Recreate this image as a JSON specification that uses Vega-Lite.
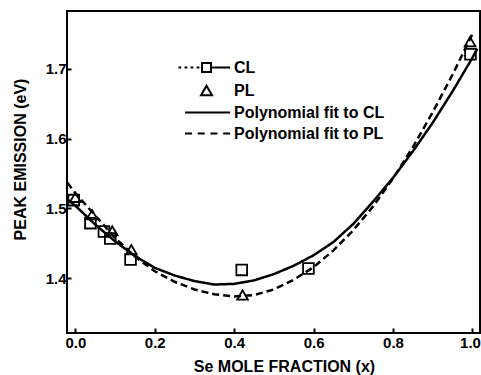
{
  "$schema": "https://vega.github.io/schema/vega-lite/v6.json",
  "width": 413,
  "height": 322,
  "autosize": {"type": "none"},
  "padding": {"left": 67, "top": 11, "right": 1, "bottom": 42},
  "background": "white",
  "config": {
    "view": {"stroke": "black", "strokeWidth": 2},
    "font": "Liberation Sans",
    "axis": {
      "domain": false,
      "grid": false,
      "labelFont": "Liberation Sans",
      "labelFontWeight": "bold",
      "labelFontSize": 15,
      "labelColor": "black",
      "titleFont": "Liberation Sans",
      "titleFontWeight": "bold",
      "titleFontSize": 16,
      "titleColor": "black",
      "tickColor": "black",
      "tickWidth": 2
    }
  },
  "datasets": {
    "points": [
      {"series": "CL", "x": -0.004, "y": 1.512},
      {"series": "CL", "x": 0.038, "y": 1.479},
      {"series": "CL", "x": 0.072, "y": 1.467},
      {"series": "CL", "x": 0.088, "y": 1.457},
      {"series": "CL", "x": 0.139, "y": 1.427},
      {"series": "CL", "x": 0.419, "y": 1.412},
      {"series": "CL", "x": 0.587, "y": 1.414},
      {"series": "CL", "x": 0.995, "y": 1.721},
      {"series": "PL", "x": 0.0, "y": 1.516},
      {"series": "PL", "x": 0.042, "y": 1.491},
      {"series": "PL", "x": 0.093, "y": 1.468},
      {"series": "PL", "x": 0.141, "y": 1.441},
      {"series": "PL", "x": 0.421, "y": 1.376},
      {"series": "PL", "x": 0.994, "y": 1.739}
    ],
    "fits": [
      {"series": "Polynomial fit to CL", "x": -0.02, "y": 1.513},
      {"series": "Polynomial fit to CL", "x": 0.0, "y": 1.504},
      {"series": "Polynomial fit to CL", "x": 0.05, "y": 1.477},
      {"series": "Polynomial fit to CL", "x": 0.1, "y": 1.453},
      {"series": "Polynomial fit to CL", "x": 0.15, "y": 1.432},
      {"series": "Polynomial fit to CL", "x": 0.2, "y": 1.415},
      {"series": "Polynomial fit to CL", "x": 0.25, "y": 1.404},
      {"series": "Polynomial fit to CL", "x": 0.3, "y": 1.396},
      {"series": "Polynomial fit to CL", "x": 0.35, "y": 1.391},
      {"series": "Polynomial fit to CL", "x": 0.4, "y": 1.392},
      {"series": "Polynomial fit to CL", "x": 0.45, "y": 1.397},
      {"series": "Polynomial fit to CL", "x": 0.5, "y": 1.406},
      {"series": "Polynomial fit to CL", "x": 0.55, "y": 1.418},
      {"series": "Polynomial fit to CL", "x": 0.6, "y": 1.433},
      {"series": "Polynomial fit to CL", "x": 0.65, "y": 1.452},
      {"series": "Polynomial fit to CL", "x": 0.7, "y": 1.478},
      {"series": "Polynomial fit to CL", "x": 0.75, "y": 1.51},
      {"series": "Polynomial fit to CL", "x": 0.8, "y": 1.544},
      {"series": "Polynomial fit to CL", "x": 0.85, "y": 1.582},
      {"series": "Polynomial fit to CL", "x": 0.9, "y": 1.623},
      {"series": "Polynomial fit to CL", "x": 0.95, "y": 1.668},
      {"series": "Polynomial fit to CL", "x": 1.0, "y": 1.716},
      {"series": "Polynomial fit to CL", "x": 1.012, "y": 1.729},
      {"series": "Polynomial fit to PL", "x": -0.02, "y": 1.537},
      {"series": "Polynomial fit to PL", "x": 0.0, "y": 1.522},
      {"series": "Polynomial fit to PL", "x": 0.05, "y": 1.49},
      {"series": "Polynomial fit to PL", "x": 0.1, "y": 1.458},
      {"series": "Polynomial fit to PL", "x": 0.15, "y": 1.431},
      {"series": "Polynomial fit to PL", "x": 0.2, "y": 1.41},
      {"series": "Polynomial fit to PL", "x": 0.25, "y": 1.395},
      {"series": "Polynomial fit to PL", "x": 0.3, "y": 1.384},
      {"series": "Polynomial fit to PL", "x": 0.35, "y": 1.377},
      {"series": "Polynomial fit to PL", "x": 0.4, "y": 1.374},
      {"series": "Polynomial fit to PL", "x": 0.45, "y": 1.376},
      {"series": "Polynomial fit to PL", "x": 0.5, "y": 1.384},
      {"series": "Polynomial fit to PL", "x": 0.55, "y": 1.398},
      {"series": "Polynomial fit to PL", "x": 0.6, "y": 1.416},
      {"series": "Polynomial fit to PL", "x": 0.65, "y": 1.44},
      {"series": "Polynomial fit to PL", "x": 0.7, "y": 1.469},
      {"series": "Polynomial fit to PL", "x": 0.75, "y": 1.503},
      {"series": "Polynomial fit to PL", "x": 0.8, "y": 1.543},
      {"series": "Polynomial fit to PL", "x": 0.85, "y": 1.588},
      {"series": "Polynomial fit to PL", "x": 0.9, "y": 1.638},
      {"series": "Polynomial fit to PL", "x": 0.95, "y": 1.692},
      {"series": "Polynomial fit to PL", "x": 1.0, "y": 1.75}
    ]
  },
  "encoding": {
    "x": {
      "field": "x", "type": "quantitative",
      "scale": {"domain": [-0.021, 1.019], "nice": false, "zero": false},
      "axis": {
        "title": "Se MOLE FRACTION (x)",
        "values": [0, 0.2, 0.4, 0.6, 0.8, 1.0],
        "format": ".1f",
        "tickSize": -5,
        "labelPadding": 7,
        "labelAlign": {"expr": "datum.value == 1 ? 'right' : 'center'"},
        "labelOffset": {"expr": "datum.value == 1 ? 8 : 0"},
        "titleY": 38,
        "titleX": 217,
        "titleBaseline": "alphabetic"
      }
    },
    "y": {
      "field": "y", "type": "quantitative",
      "scale": {"domain": [1.3216, 1.783], "nice": false, "zero": false},
      "axis": {
        "title": "PEAK EMISSION (eV)",
        "values": [1.4, 1.5, 1.6, 1.7],
        "format": ".1f",
        "tickSize": -4,
        "labelPadding": 5,
        "titleX": -42,
        "titleY": 148,
        "titleBaseline": "alphabetic"
      }
    }
  },
  "resolve": {"scale": {"shape": "independent"}},
  "layer": [
    {
      "data": {"name": "fits"},
      "mark": {"type": "line", "color": "black", "strokeWidth": 2.5, "clip": true},
      "encoding": {
        "strokeDash": {
          "field": "series", "type": "nominal",
          "scale": {"domain": ["Polynomial fit to CL", "Polynomial fit to PL"], "range": [[1, 0], [7, 4]]},
          "legend": null
        }
      }
    },
    {
      "data": {"name": "points"},
      "mark": {"type": "point", "filled": false, "color": "black", "opacity": 1, "strokeWidth": 1.8, "size": 115},
      "encoding": {
        "shape": {
          "field": "series", "type": "nominal",
          "scale": {"domain": ["CL", "PL"], "range": ["square", "triangle-up"]},
          "legend": null
        }
      }
    },
    {
      "data": {"name": "points"},
      "transform": [{"filter": "false"}],
      "mark": {"type": "point", "filled": false, "color": "black", "opacity": 1, "strokeWidth": 2},
      "encoding": {
        "shape": {
          "field": "series", "type": "nominal",
          "scale": {
            "domain": ["CL", "PL", "Polynomial fit to CL", "Polynomial fit to PL"],
            "range": [
              "M-5.1,0H-4.6M-4.0,0H-3.5M-2.9,0H-2.4M-1.8,0H-1.3M-0.82,-0.82H0.82V0.82H-0.82ZM0.82,0H4.3",
              "triangle-up",
              "M-3.9,0H4.3",
              "M-3.9,0H-2.63M-1.59,0H-0.32M0.72,0H1.99M3.03,0H4.3"
            ]
          },
          "legend": {
            "title": null,
            "orient": "none",
            "legendX": 131.5,
            "legendY": 48.5,
            "padding": 0,
            "labelFont": "Liberation Sans",
            "labelFontWeight": "bold",
            "labelFontSize": 16,
            "labelColor": "black",
            "labelOffset": 19.5,
            "rowPadding": 5,
            "symbolSize": 121,
            "symbolStrokeWidth": 2,
            "symbolStrokeColor": "black",
            "symbolFillColor": "transparent",
            "symbolOpacity": 1
          }
        }
      }
    }
  ]
}
